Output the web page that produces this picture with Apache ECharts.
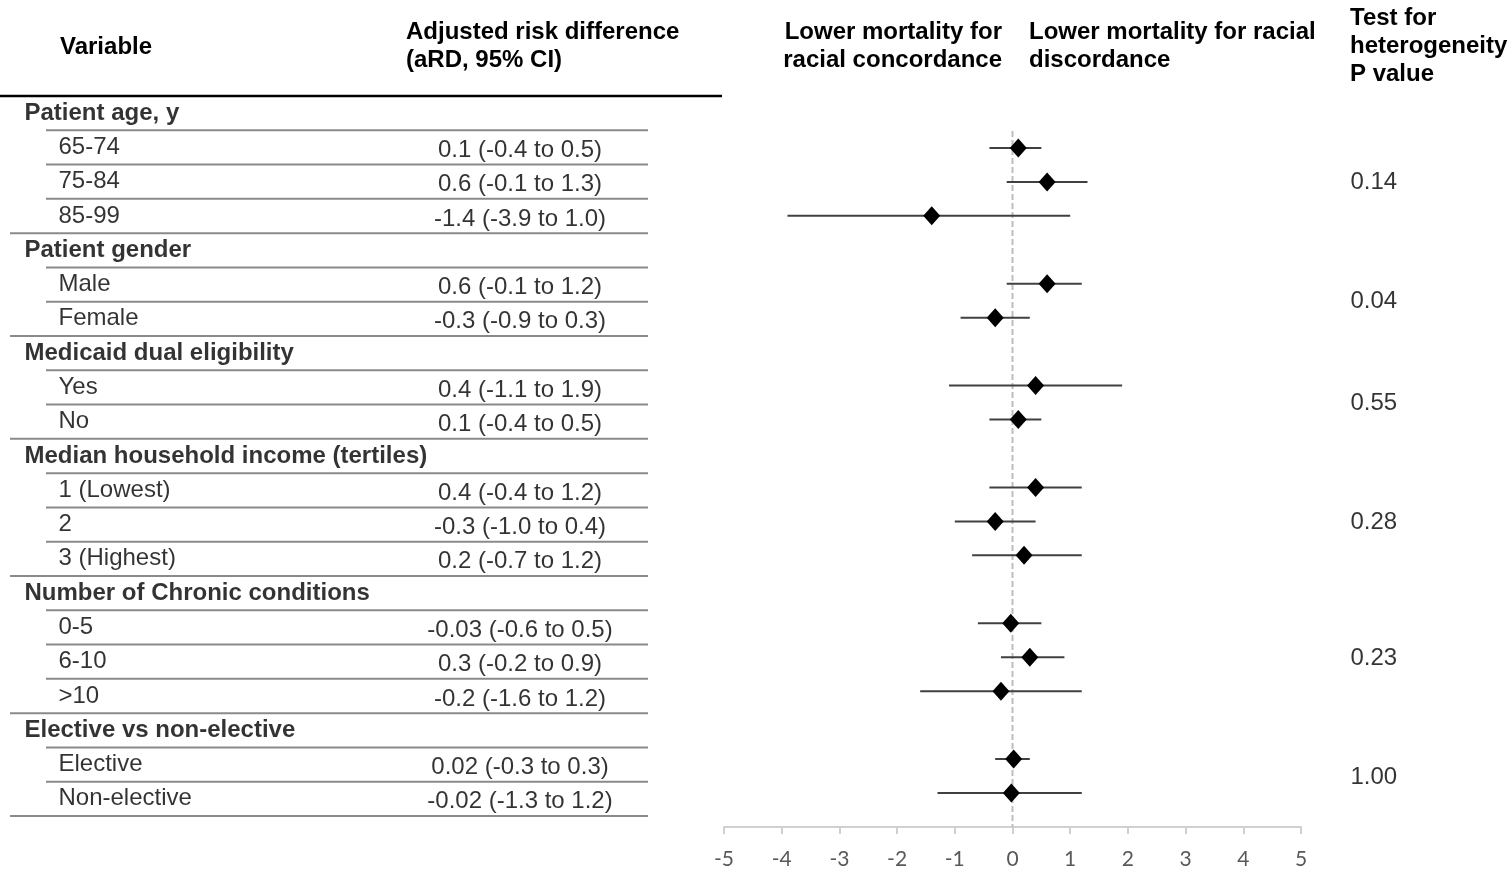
<!DOCTYPE html>
<html>
<head>
<meta charset="utf-8">
<title>Forest plot</title>
<script src="https://cdn.jsdelivr.net/npm/echarts@6/dist/echarts.min.js"></script>
<style>
  html, body { margin: 0; padding: 0; background: #fff; }
  #chart { width: 1511px; height: 870px; }
</style>
</head>
<body>
<div id="chart"></div>
<script>
  // rows of the table, top to bottom
  const rowLabels = [
    'Patient age, y', '65-74', '75-84', '85-99',
    'Patient gender', 'Male', 'Female',
    'Medicaid dual eligibility', 'Yes', 'No',
    'Median household income (tertiles)', '1 (Lowest)', '2', '3 (Highest)',
    'Number of Chronic conditions', '0-5', '6-10', '>10',
    'Elective vs non-elective', 'Elective', 'Non-elective'
  ];
  const headerRows = [0, 4, 7, 10, 14, 18];
  const ardLabels = [
    '', '0.1 (-0.4 to 0.5)', '0.6 (-0.1 to 1.3)', '-1.4 (-3.9 to 1.0)',
    '', '0.6 (-0.1 to 1.2)', '-0.3 (-0.9 to 0.3)',
    '', '0.4 (-1.1 to 1.9)', '0.1 (-0.4 to 0.5)',
    '', '0.4 (-0.4 to 1.2)', '-0.3 (-1.0 to 0.4)', '0.2 (-0.7 to 1.2)',
    '', '-0.03 (-0.6 to 0.5)', '0.3 (-0.2 to 0.9)', '-0.2 (-1.6 to 1.2)',
    '', '0.02 (-0.3 to 0.3)', '-0.02 (-1.3 to 1.2)'
  ];
  const estimates = [null, 0.1, 0.6, -1.4, null, 0.6, -0.3, null, 0.4, 0.1,
    null, 0.4, -0.3, 0.2, null, -0.03, 0.3, -0.2, null, 0.02, -0.02];
  const lowerCI = [null, -0.4, -0.1, -3.9, null, -0.1, -0.9, null, -1.1, -0.4,
    null, -0.4, -1.0, -0.7, null, -0.6, -0.2, -1.6, null, -0.3, -1.3];
  const upperCI = [null, 0.5, 1.3, 1.0, null, 1.2, 0.3, null, 1.9, 0.5,
    null, 1.2, 0.4, 1.2, null, 0.5, 0.9, 1.2, null, 0.3, 1.2];
  // heterogeneity p values and the row (or between-row) position they sit at
  const pValues = ['0.14', '0.04', '0.55', '0.28', '0.23', '1.00'];
  const pValueRows = [2, 5.5, 8.5, 12, 16, 19.5];
  const axisMin = -5;
  const axisMax = 5;
  const axisStep = 1;

  const FONT = '"Liberation Sans", Arial, sans-serif';
  const FONT_SIZE = 24;
  const isHeader = i => headerRows.indexOf(i) >= 0;

  const chart = echarts.init(document.getElementById('chart'));

  // text columns of the table (x is in table pixels)
  const labelData = rowLabels.map((name, i) => ({
    name: name,
    value: [isHeader(i) ? 24 : 58, i],
    label: {fontWeight: isHeader(i) ? 'bold' : 'normal'}
  }));
  const ardData = [];
  ardLabels.forEach((t, i) => {
    if (t) ardData.push({name: t, value: [520, i]});
  });

  // horizontal rules: top black rule, grey rules after every row
  const ruleData = [[0, 722, -0.5, 1]];
  rowLabels.forEach((_, i) => {
    const next = i + 1;
    const full = next >= rowLabels.length || isHeader(next);
    ruleData.push([full ? 10 : 46, 648, i + 0.5, 0]);
  });

  const ciData = [];
  const pointData = [];
  estimates.forEach((v, i) => {
    if (v === null) return;
    ciData.push([lowerCI[i], upperCI[i], i]);
    pointData.push([v, i]);
  });

  const pData = pValues.map((p, k) => ({name: p, value: [0, pValueRows[k]]}));

  const headerText = {
    fontFamily: FONT, fontSize: FONT_SIZE, fontWeight: 'bold',
    color: '#000', lineHeight: 28
  };

  chart.setOption({
    animation: false,
    backgroundColor: '#fff',
    title: [
      {text: 'Variable', left: 60, top: 33, padding: 0, textStyle: headerText},
      {text: 'Adjusted risk difference\n(aRD, 95% CI)', left: 406, top: 18, padding: 0, textStyle: headerText},
      {text: 'Lower mortality for\nracial concordance', left: 1002, top: 18, padding: 0,
        textAlign: 'right', textStyle: headerText},
      {text: 'Lower mortality for racial\ndiscordance', left: 1029, top: 18, padding: 0, textStyle: headerText},
      {text: 'Test for\nheterogeneity\nP value', left: 1350, top: 4, padding: 0, textStyle: headerText}
    ],
    grid: [
      // table
      {left: 0, width: 1511, top: 96, height: 720},
      // forest plot
      {left: 724, width: 577, top: 97, height: 731},
      // p values
      {left: 1350, width: 100, top: 97, height: 731}
    ],
    xAxis: [
      {gridIndex: 0, type: 'value', min: 0, max: 1511, show: false},
      {
        gridIndex: 1, type: 'value', min: axisMin, max: axisMax, interval: axisStep,
        axisLine: {show: true, onZero: false, lineStyle: {color: '#d0d0d0', width: 2}},
        axisTick: {show: true, length: 7, lineStyle: {color: '#d0d0d0', width: 2}},
        axisLabel: {color: '#595959', fontSize: 21, fontFamily: 'Lato, "Liberation Sans", sans-serif', margin: 22},
        splitLine: {show: false}
      },
      {gridIndex: 2, type: 'value', min: 0, max: 1, show: false}
    ],
    yAxis: [
      {gridIndex: 0, type: 'value', min: -0.5, max: 20.5, inverse: true, show: false},
      {gridIndex: 1, type: 'value', min: -0.5, max: 21, inverse: true, show: false},
      {gridIndex: 2, type: 'value', min: -0.5, max: 21, inverse: true, show: false}
    ],
    series: [
      {
        name: 'rules',
        type: 'custom',
        xAxisIndex: 0, yAxisIndex: 0,
        silent: true,
        data: ruleData,
        renderItem(params, api) {
          const a = api.coord([api.value(0), api.value(2)]);
          const b = api.coord([api.value(1), api.value(2)]);
          const thick = api.value(3) === 1;
          return {
            type: 'line',
            shape: {x1: a[0], y1: a[1], x2: b[0], y2: b[1]},
            style: {stroke: thick ? '#000' : '#8a8a8a', lineWidth: thick ? 2.5 : 2}
          };
        }
      },
      {
        name: 'variables',
        type: 'scatter',
        xAxisIndex: 0, yAxisIndex: 0,
        symbolSize: 1,
        itemStyle: {color: 'rgba(0,0,0,0)'},
        silent: true,
        label: {
          show: true, position: 'right', distance: 0,
          formatter: p => p.name,
          fontFamily: FONT, fontSize: FONT_SIZE, color: '#000'
        },
        data: labelData
      },
      {
        name: 'aRD',
        type: 'scatter',
        xAxisIndex: 0, yAxisIndex: 0,
        symbolSize: 1,
        itemStyle: {color: 'rgba(0,0,0,0)'},
        silent: true,
        label: {
          show: true, position: 'inside', align: 'center', offset: [0, 3],
          formatter: p => p.name,
          fontFamily: FONT, fontSize: FONT_SIZE, color: '#000'
        },
        data: ardData
      },
      {
        // reference line at zero
        name: 'zero',
        type: 'line',
        xAxisIndex: 1, yAxisIndex: 1,
        symbol: 'none',
        silent: true,
        z: 1,
        lineStyle: {color: '#bdbdbd', width: 2, type: [6, 3]},
        data: [[0, 0.5], [0, 21]]
      },
      {
        name: 'CI',
        type: 'custom',
        xAxisIndex: 1, yAxisIndex: 1,
        z: 2,
        data: ciData,
        renderItem(params, api) {
          const a = api.coord([api.value(0), api.value(2)]);
          const b = api.coord([api.value(1), api.value(2)]);
          return {
            type: 'line',
            shape: {x1: a[0], y1: a[1], x2: b[0], y2: b[1]},
            style: {stroke: '#404040', lineWidth: 2}
          };
        }
      },
      {
        name: 'aRD point',
        type: 'scatter',
        xAxisIndex: 1, yAxisIndex: 1,
        z: 3,
        symbol: 'diamond',
        symbolSize: [17, 19],
        itemStyle: {color: '#000', opacity: 1},
        data: pointData
      },
      {
        name: 'P value',
        type: 'scatter',
        xAxisIndex: 2, yAxisIndex: 2,
        symbolSize: 1,
        itemStyle: {color: 'rgba(0,0,0,0)'},
        silent: true,
        label: {
          show: true, position: 'right', distance: 0,
          formatter: p => p.name,
          fontFamily: FONT, fontSize: FONT_SIZE, color: '#000'
        },
        data: pData
      }
    ]
  });
</script>
</body>
</html>
